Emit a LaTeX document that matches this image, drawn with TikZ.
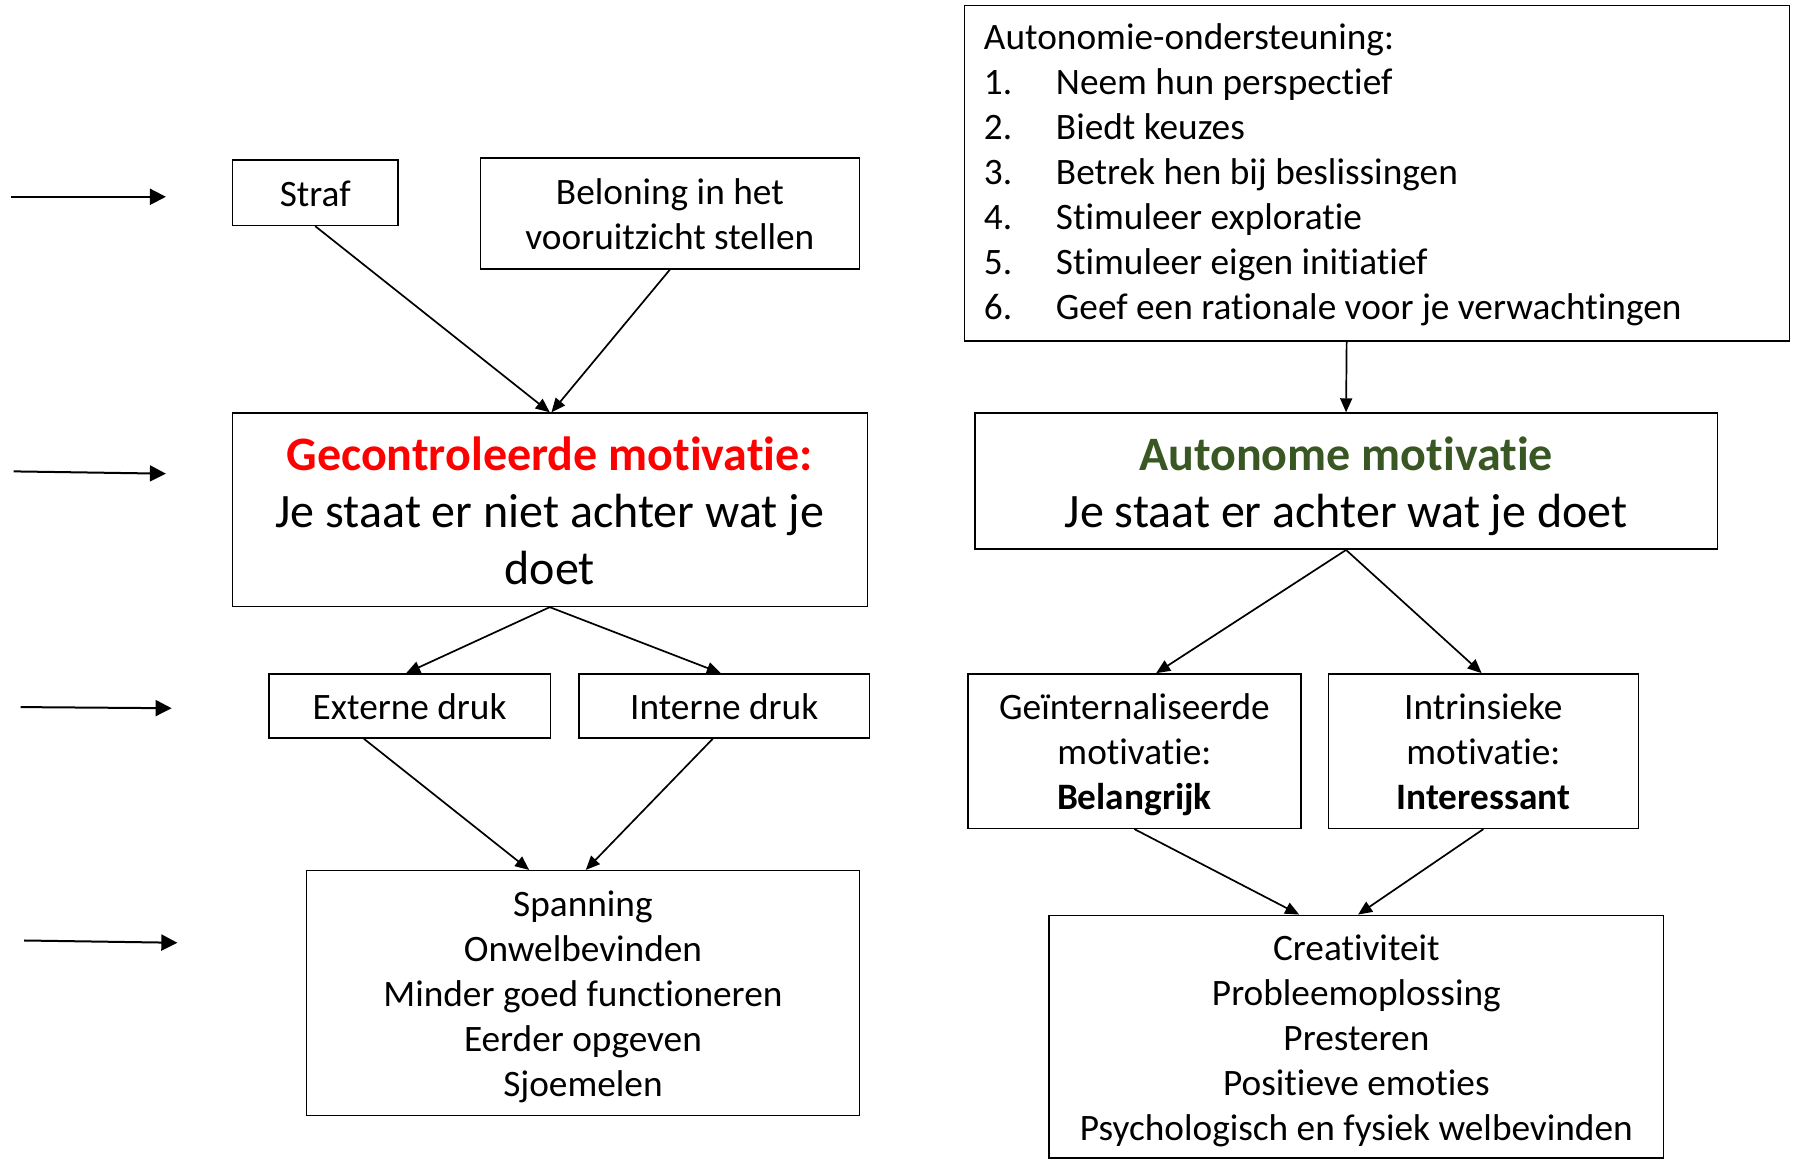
\documentclass[tikz,border=0pt]{standalone}
\usepackage{fontspec}
\setmainfont{Carlito}[Ligatures=NoCommon]
\usetikzlibrary{arrows.meta,calc}
\definecolor{ctrlred}{HTML}{FF0000}
\definecolor{autgreen}{HTML}{385723}
\newcommand\lstrut{\rule[-0.22em]{0pt}{1.18em}}
\newcommand\lstrutdeep{\rule[-0.34em]{0pt}{1.3em}}
\begin{document}
\begin{tikzpicture}[x=1.1441pt,y=-1.1441pt,
  box/.style={draw, line width=1.5pt, rectangle, inner sep=0pt, align=center, font=\fontsize{37.3}{45}\selectfont},
  big/.style={font=\fontsize{48}{57}\selectfont},
  sz/.style 2 args={minimum width=#1*1.1441pt, minimum height=#2*1.1441pt},
  conn/.style={line width=1.7pt, -{Triangle[length=14pt,width=12pt]}},
  side/.style={line width=2pt, -{Triangle[length=16pt,width=16pt]}}]
\useasboundingbox (0,0) rectangle (1568,1014);

\node[box, sz={145}{57}] (straf) at (275.5,168.5) {\lstrut Straf\lstrut};
\node[box, sz={331}{97}] (belon) at (585.5,186.5) {\lstrut Beloning in het\\vooruitzicht stellen\lstrut};
\node[box, sz={721}{293}, align=flush left, text width=786pt, inner xsep=19.5pt] (steun) at (1203.5,151.5)
  {\lstrut Autonomie-ondersteuning:\\
   \makebox[72pt][l]{1.}Neem hun perspectief\\
   \makebox[72pt][l]{2.}Biedt keuzes\\
   \makebox[72pt][l]{3.}Betrek hen bij beslissingen\\
   \makebox[72pt][l]{4.}Stimuleer exploratie\\
   \makebox[72pt][l]{5.}Stimuleer eigen initiatief\\
   \makebox[72pt][l]{6.}Geef een rationale voor je verwachtingen\lstrutdeep};
\node[box, big, sz={555}{169}] (gecon) at (480.5,445.5)
  {\lstrut\textcolor{ctrlred}{\bfseries Gecontroleerde motivatie:}\\Je staat er niet achter wat je\\doet\lstrut};
\node[box, big, sz={649}{119}] (auton) at (1176.5,420.5)
  {\lstrut\textcolor{autgreen}{\bfseries Autonome motivatie}\\Je staat er achter wat je doet\lstrut};
\node[box, sz={246}{56}] (extern) at (358,617) {\lstrut Externe druk\lstrut};
\node[box, sz={254}{56}] (intern) at (633,617) {\lstrut Interne druk\lstrut};
\node[box, sz={291}{135}] (geint) at (991.5,656.5) {\lstrut Geïnternaliseerde\\motivatie:\\\textbf{Belangrijk}\lstrut};
\node[box, sz={271}{135}] (intrin) at (1296.5,656.5) {\lstrut Intrinsieke\\motivatie:\\\textbf{Interessant}\lstrut};
\node[box, sz={483}{214}] (span) at (509.5,868)
  {\lstrut Spanning\\Onwelbevinden\\Minder goed functioneren\\Eerder opgeven\\Sjoemelen\lstrut};
\node[box, sz={537}{212}] (creat) at (1185.5,906)
  {\lstrut Creativiteit\\Probleemoplossing\\Presteren\\Positieve emoties\\Psychologisch en fysiek welbevinden\lstrut};

\draw[conn] (straf.south) -- (gecon.north);
\draw[conn] (belon.south) -- ($(gecon.north)+(1.5,0)$);
\draw[conn] ($(steun.south)+(-26.5,0)$) -- (auton.north);
\draw[conn] (gecon.south) -- ($(extern.north)+(-3,0)$);
\draw[conn] (gecon.south) -- ($(intern.north)+(-3,0)$);
\draw[conn] (auton.south) -- ($(geint.north)+(19,0)$);
\draw[conn] (auton.south) -- ($(intrin.north)+(-1.5,0)$);
\draw[conn] ($(extern.south)+(-40,0)$) -- ($(span.north)+(-47,0)$);
\draw[conn] ($(intern.south)+(-10,0)$) -- ($(span.north)+(2.5,0)$);
\draw[conn] (geint.south) -- ($(creat.north)+(-50,0)$);
\draw[conn] (intrin.south) -- ($(creat.north)+(1.5,0)$);

\coordinate (l1s) at (10,172);  \coordinate (l1e) at (145,172);
\coordinate (l2s) at (12,412);  \coordinate (l2e) at (145,414);
\coordinate (l3s) at (18,618);  \coordinate (l3e) at (150,619);
\coordinate (l4s) at (21,822);  \coordinate (l4e) at (155,824);
\draw[side] (l1s) -- (l1e);
\draw[side] (l2s) -- (l2e);
\draw[side] (l3s) -- (l3e);
\draw[side] (l4s) -- (l4e);
\end{tikzpicture}
\end{document}
